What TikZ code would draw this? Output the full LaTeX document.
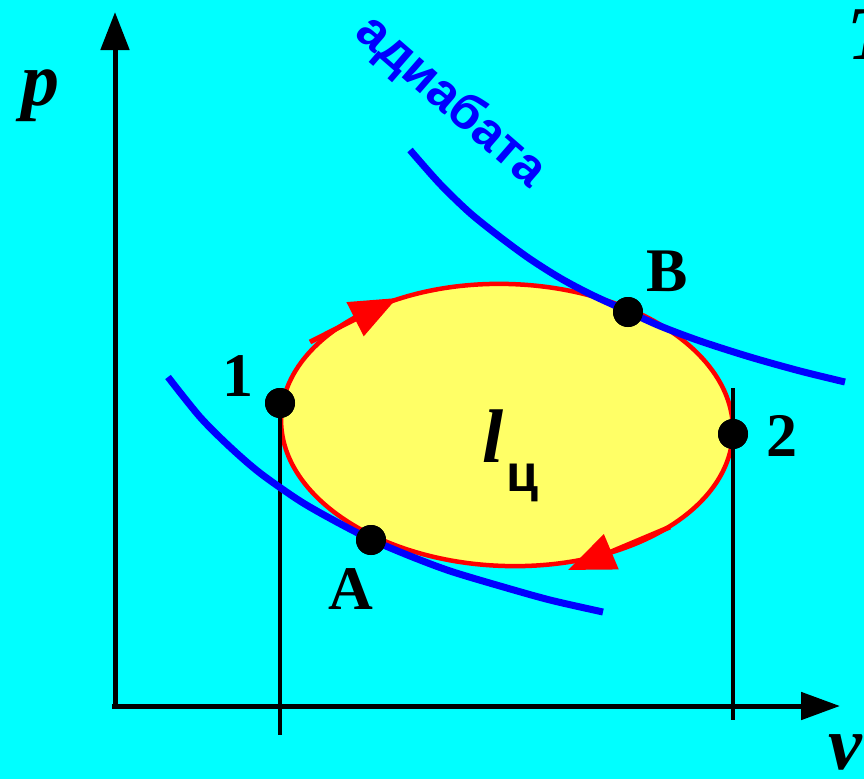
\documentclass[tikz,border=0pt]{standalone}
\usepackage{fontspec}
\setmainfont{Liberation Serif}
\newfontfamily\arialfont{Liberation Sans}
\usepackage{xcolor}
\usetikzlibrary{arrows.meta}
\definecolor{bgcyan}{RGB}{0,255,255}
\definecolor{cycyellow}{RGB}{255,255,102}

\begin{document}
\begin{tikzpicture}[x=1pt,y=-1pt,
  dot/.style={circle,fill=black,inner sep=0pt,minimum size=30pt},
  var/.style={inner sep=0pt,font=\fontsize{76}{80}\selectfont\bfseries\itshape},
  lbl/.style={inner sep=0pt,font=\fontsize{62}{66}\selectfont\bfseries},
  adiab/.style={blue,line width=7pt},
  flow/.style={red,line width=5pt,-{Triangle[length=47pt,width=37pt]}}]
\fill[bgcyan](0,0) rectangle (864,779);
\useasboundingbox (0,0) rectangle (864,779);
\coordinate (o) at (115,706);
\coordinate (ytop) at (115,12);
\coordinate (xend) at (840,706);
\draw[line width=5pt,-{Triangle[length=38pt,width=28pt]}](115,708)--(ytop);
\draw[line width=5pt,-{Triangle[length=39pt,width=27pt]}](112,706)--(xend);
\filldraw[fill=cycyellow,draw=red,line width=4.5pt,rotate around={-2:(507,425)}](507,425) ellipse [x radius=226,y radius=141];
\draw[flow](310,342)--(397,298);
\draw[flow](670,527)--(568,570);
\node[dot] (p1) at (280,403) {};
\node[dot] (p2) at (733,434) {};
\node[dot] (pA) at (371,540) {};
\node[dot] (pB) at (628,312) {};
\coordinate (v1) at (280,735);
\coordinate (v2top) at (733,388);
\coordinate (v2) at (733,720);
\draw[line width=3.5pt](p1.center)--(v1);
\draw[line width=3.5pt](v2top)--(v2);
\draw[adiab] plot[smooth] coordinates {(410,150) (440,184) (470,213) (500,237) (530,259) (560,278) (590,294) (627,311) (660,326) (700,341) (750,357) (800,371) (845,382)};
\draw[adiab] plot[smooth] coordinates {(168,377) (200,417) (230,447) (260,473) (300,501) (335,521) (370,539) (410,556) (450,571) (500,586) (550,600) (603,612)};
\node[dot] at (p1) {};
\node[dot] at (p2) {};
\node[dot] at (pA) {};
\node[dot] at (pB) {};
\node[lbl] (l1) at (238,376) {1};
\node[lbl] (l2) at (782,436) {2};
\node[lbl] (lA) at (351,589) {A};
\node[lbl] (lB) at (667,271) {B};
\node[var] (lp) at (40,96) {p};
\node[var] (lT) at (871,35) {T};
\node[var] (lv) at (845,752) {v};
\node[var] (lcyc) at (493,436) {l};
\node[inner sep=0pt,font=\arialfont\bfseries\fontsize{52}{56}\selectfont] (lsub) at (522,483) {ц};
\node[inner sep=0pt,blue,rotate=-41,font=\arialfont\bfseries\fontsize{51}{55}\selectfont] (ladiab) at (451,102) {адиабата};
\end{tikzpicture}
\end{document}
